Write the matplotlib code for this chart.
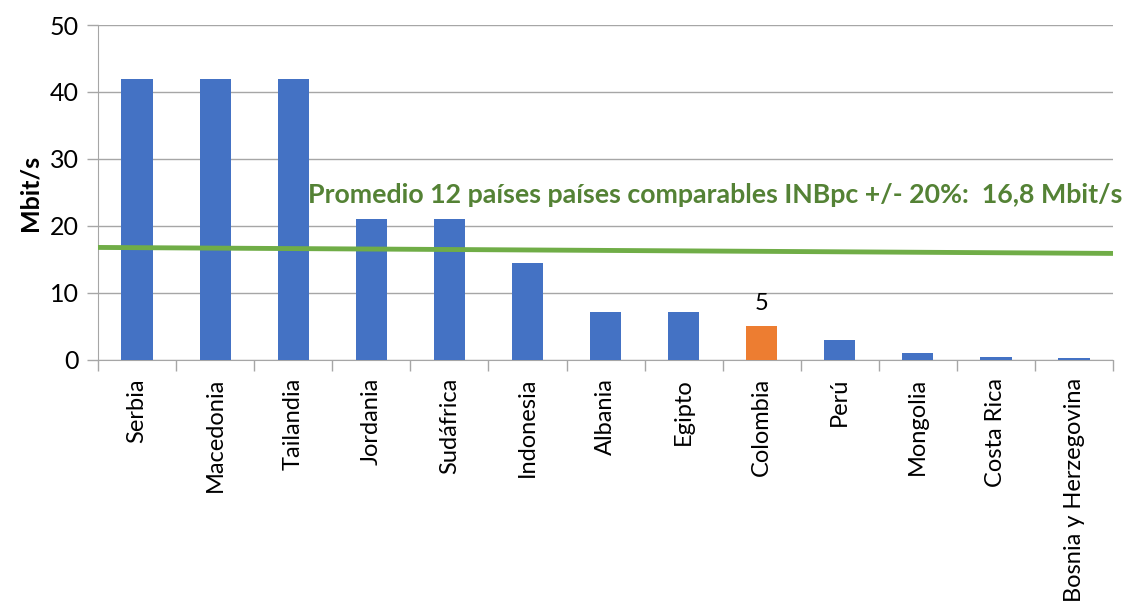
import matplotlib
matplotlib.use('Agg')
import matplotlib.pyplot as plt

plt.rcParams['font.family'] = ['Lato', 'DejaVu Sans']

countries = ['Serbia', 'Macedonia', 'Tailandia', 'Jordania', 'Sudáfrica', 'Indonesia',
             'Albania', 'Egipto', 'Colombia', 'Perú', 'Mongolia', 'Costa Rica',
             'Bosnia y Herzegovina']
speeds = [42, 42, 42, 21, 21, 14.4, 7.2, 7.2, 5, 3, 1, 0.45, 0.3]
highlight = 'Colombia'
avg_ends = [16.8, 15.9]
avg_text = 'Promedio 12 países países comparables INBpc +/- 20%:  16,8 Mbit/s'

blue = '#4472C4'
orange = '#ED7D31'
green_line = '#70AD47'
green_text = '#548235'
grid_gray = '#A6A6A6'

fig = plt.figure(figsize=(11.36, 6.07), dpi=100)
ax = fig.add_axes([0.0863, 0.407, 0.8935, 0.5518])

x = list(range(len(countries)))
colors = [orange if c == highlight else blue for c in countries]
ax.bar(x, speeds, width=0.4, color=colors, zorder=3)

# average line across the full width
ax.plot([-0.55, len(countries) - 0.45], avg_ends, color=green_line, lw=3.5, zorder=4,
        solid_capstyle='butt')

ax.text(2.19, 24.6, avg_text, color=green_text, fontsize=19.3, fontweight='bold',
        ha='left', va='center', zorder=5)

i = countries.index(highlight)
ax.text(i, speeds[i] + 1.8, f'{speeds[i]:g}', ha='center', va='bottom', fontsize=17,
        color='black')

ax.set_xlim(-0.5, len(countries) - 0.5)
ax.set_ylim(0, 50)
ax.set_yticks(range(0, 51, 10))
ax.yaxis.grid(True, color=grid_gray, lw=1, zorder=0)
ax.set_axisbelow(True)

ax.set_xticks(x)
ax.set_xticklabels(countries, rotation=90, fontsize=17)
ax.set_xticks([k - 0.5 for k in range(len(countries) + 1)], minor=True)
ax.tick_params(axis='x', which='major', length=0, pad=13)
ax.tick_params(axis='x', which='minor', length=8, color=grid_gray, width=1)
ax.tick_params(axis='y', length=8, color=grid_gray, width=1, labelsize=18, pad=6)

for s in ['top', 'right']:
    ax.spines[s].set_visible(False)
for s in ['left', 'bottom']:
    ax.spines[s].set_color(grid_gray)

ax.set_ylabel('Mbit/s', fontsize=18, fontweight='bold', labelpad=6)

fig.savefig('out.png', dpi=100)
